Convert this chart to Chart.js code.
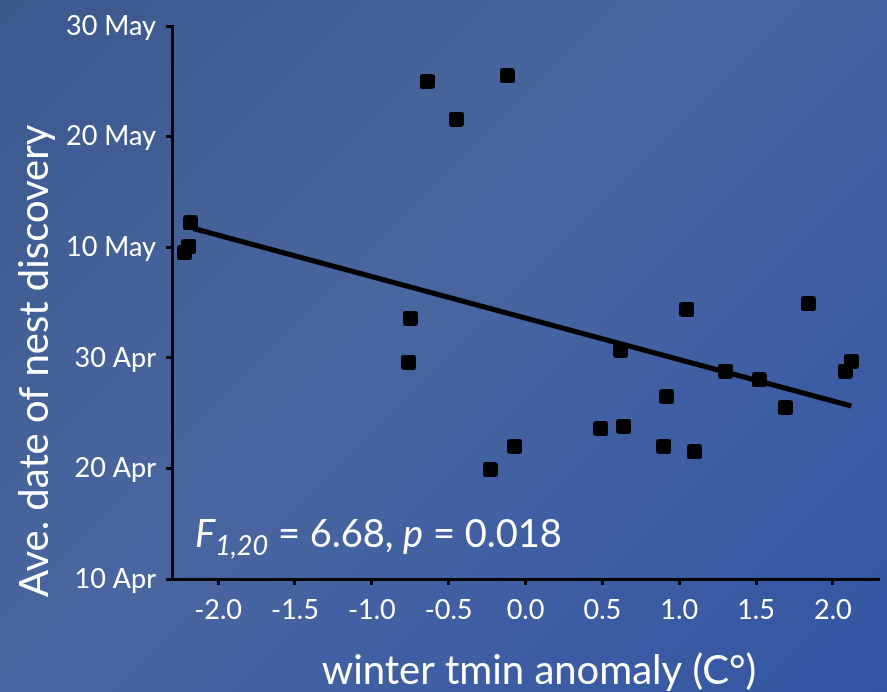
<!DOCTYPE html>
<html>
<head>
<meta charset="utf-8">
<script src="https://cdn.jsdelivr.net/npm/chart.js@4"></script>
<style>
  html, body { margin: 0; padding: 0; }
  body {
    width: 887px; height: 692px; overflow: hidden;
    background: linear-gradient(135deg, #3b598d 0%, #4a66a0 45%, #3f5ea3 70%, #3455a3 100%);
  }
  #wrap { position: relative; width: 887px; height: 692px; }
</style>
</head>
<body>
<div id="wrap"><canvas id="chart" width="887" height="692"></canvas></div>
<script>
// winter tmin anomaly (C) vs average nest discovery date (day of year, 100 = 10 Apr)
const anomaly = [-2.18, -2.19, -2.22, -0.64, -0.45, -0.12, -0.75, -0.76, -0.07, -0.23,
                 0.62, 1.05, 0.92, 0.49, 0.64, 0.90, 1.10, 1.30, 1.84, 1.52, 1.69, 2.12, 2.08];
const nestDay = [132.2, 130.1, 129.5, 145.0, 141.6, 145.5, 123.6, 119.6, 112.0, 109.9,
                 120.7, 124.4, 116.5, 113.6, 113.8, 112.0, 111.5, 118.8, 124.9, 118.0, 115.5, 119.7, 118.8];

// regression line end points
const fitX = [-2.16, 2.12];
const fitY = [131.7, 115.65];

const xTicks = [-2.0, -1.5, -1.0, -0.5, 0.0, 0.5, 1.0, 1.5, 2.0];
const yTicks = [100, 110, 120, 130, 140, 150];
const yTickLabels = ['10 Apr', '20 Apr', '30 Apr', '10 May', '20 May', '30 May'];

const xTitle = 'winter tmin anomaly (C°)';
const yTitle = 'Ave. date of nest discovery';

Chart.defaults.font.family = 'Lato';

// rounded square marker
function squareMarker(size, r) {
    const c = document.createElement('canvas');
    c.width = size; c.height = size;
    const g = c.getContext('2d');
    g.fillStyle = '#000';
    g.beginPath();
    g.roundRect(0, 0, size, size, r);
    g.fill();
    return c;
}
const marker = squareMarker(15, 3);

const textPlugin = {
    id: 'texts',
    afterDraw(chart) {
        const ctx = chart.ctx;
        const area = chart.chartArea;
        ctx.save();
        ctx.fillStyle = '#fff';

        // x title
        ctx.font = '40px Lato';
        ctx.textAlign = 'center';
        ctx.textBaseline = 'alphabetic';
        ctx.fillText(xTitle, 539, 684);

        // y title
        ctx.save();
        ctx.translate(48, 597);
        ctx.rotate(-Math.PI / 2);
        ctx.textAlign = 'left';
        ctx.fillText(yTitle, 0, 0);
        ctx.restore();

        // stats annotation
        let x = area.left + 23;
        const y = 547;
        ctx.textAlign = 'left';
        const parts = [
            ['italic 38px Lato', 'F', 0],
            ['italic 27px Lato', '1,20', 8],
            ['38px Lato', ' = 6.68, ', 0],
            ['italic 38px Lato', 'p', 0],
            ['38px Lato', ' = 0.018', 0]
        ];
        parts.forEach(([font, txt, dy]) => {
            ctx.font = font;
            ctx.fillText(txt, x, y + dy);
            x += ctx.measureText(txt).width;
        });
        ctx.restore();
    }
};

new Chart(document.getElementById('chart'), {
    type: 'scatter',
    data: {
        datasets: [
            {
                data: anomaly.map((v, i) => ({ x: v, y: nestDay[i] })),
                pointStyle: marker,
                pointRadius: 7,
                pointHoverRadius: 7
            },
            {
                data: fitX.map((v, i) => ({ x: v, y: fitY[i] })),
                showLine: true,
                borderColor: '#000',
                borderWidth: 5,
                pointRadius: 0,
                borderCapStyle: 'butt'
            }
        ]
    },
    options: {
        responsive: false,
        animation: false,
        layout: { padding: { top: 25, right: 3, left: 0, bottom: 0 } },
        plugins: { legend: { display: false }, tooltip: { enabled: false } },
        scales: {
            x: {
                type: 'linear',
                min: -2.3, max: 2.3,
                afterBuildTicks: s => { s.ticks = xTicks.map(v => ({ value: v })); },
                afterFit: s => { s.height = 113; },
                grid: { drawOnChartArea: false, drawTicks: true, tickLength: 6, tickWidth: 3, tickColor: '#000' },
                border: { color: '#000', width: 3 },
                ticks: {
                    color: '#fff', font: { size: 27 }, padding: 9, maxRotation: 0,
                    callback: v => v.toFixed(1)
                }
            },
            y: {
                min: 100, max: 150,
                afterBuildTicks: s => { s.ticks = yTicks.map(v => ({ value: v })); },
                afterFit: s => { s.width = 172; },
                grid: { drawOnChartArea: false, drawTicks: true, tickLength: 6, tickWidth: 3, tickColor: '#000' },
                border: { color: '#000', width: 3 },
                ticks: {
                    color: '#fff', font: { size: 27 }, padding: 10,
                    callback: v => yTickLabels[yTicks.indexOf(v)]
                }
            }
        }
    },
    plugins: [textPlugin]
});
</script>
</body>
</html>
